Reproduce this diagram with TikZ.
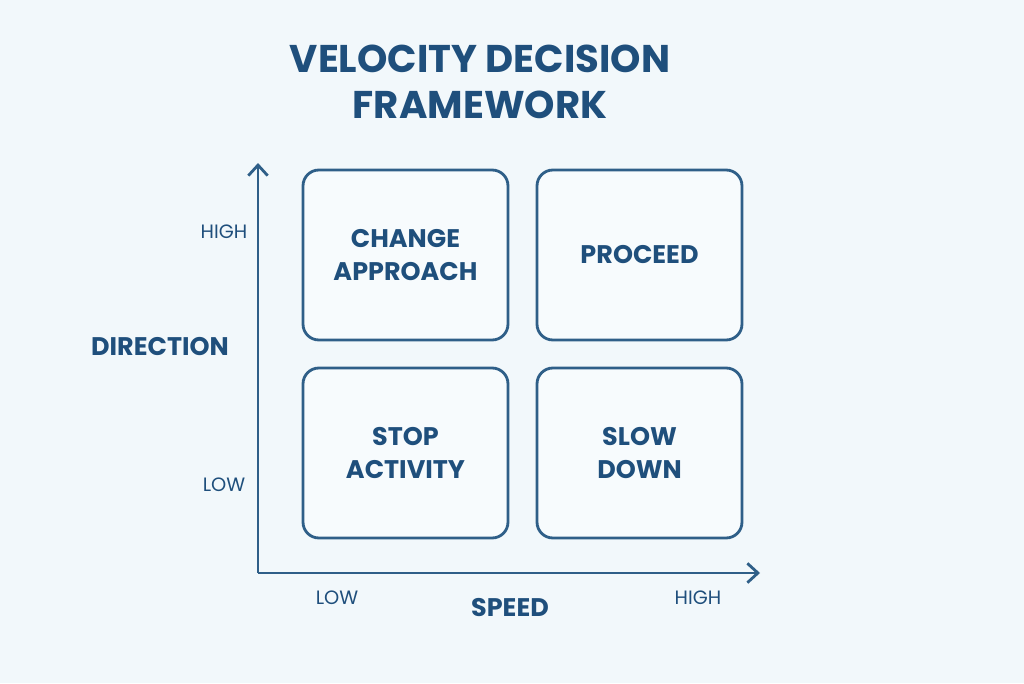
\documentclass[tikz,border=0pt]{standalone}
\usepackage{fontspec}
\setmainfont{Poppins}
\usetikzlibrary{arrows.meta, positioning}
\definecolor{bgblue}{HTML}{F2F8FB}
\definecolor{inkblue}{HTML}{1F4F7C}
\definecolor{lineblue}{HTML}{2F5F88}
\definecolor{boxfill}{HTML}{F7FBFD}

\begin{document}
\begin{tikzpicture}[x=0.02cm, y=-0.02cm,
  quadbox/.style={draw=lineblue, line width=1.6pt, fill=boxfill, rounded corners=9pt, minimum width=4.1cm, minimum height=3.4cm, font=\fontsize{14.5}{19}\selectfont\bfseries, text=inkblue, align=center},
  ticklabel/.style={font=\fontsize{11}{13}\selectfont, text=inkblue},
  axislabel/.style={font=\fontsize{14.5}{18}\selectfont\bfseries, text=inkblue}]
  % background
  \fill[bgblue] (0,0) rectangle (1024,683);
  \useasboundingbox (0,0) rectangle (1024,683);

  % Title
  \node[font=\fontsize{22}{26}\selectfont\bfseries, text=inkblue, align=center] (title) at (480,82) {VELOCITY DECISION\\FRAMEWORK};

  % Quadrants
  \node[quadbox] (change) at (405.5,255) {CHANGE\\APPROACH};
  \node[quadbox] (proceed) at (639.5,255) {PROCEED};
  \node[quadbox] (stop) at (405.5,453) {STOP\\ACTIVITY};
  \node[quadbox] (slow) at (639.5,453) {SLOW\\DOWN};

  % Axes
  \coordinate (origin) at (258,573);
  \coordinate (ytop) at (258,163);
  \coordinate (xend) at (760,573);
  \draw[lineblue, line width=1.6pt, -{Straight Barb[length=6pt, width=11pt]}] (origin) -- (ytop);
  \draw[lineblue, line width=1.6pt, -{Straight Barb[length=6pt, width=11pt]}] (origin) -- (xend);

  % Axis labels
  \node[ticklabel] (yhigh) at (224,232) {HIGH};
  \node[ticklabel] (ylow) at (224,485) {LOW};
  \node[axislabel] (direction) at (160,347) {DIRECTION};
  \node[ticklabel] (xlow) at (337,598) {LOW};
  \node[axislabel] (speed) at (510,608) {SPEED};
  \node[ticklabel] (xhigh) at (698,598) {HIGH};
\end{tikzpicture}
\end{document}
